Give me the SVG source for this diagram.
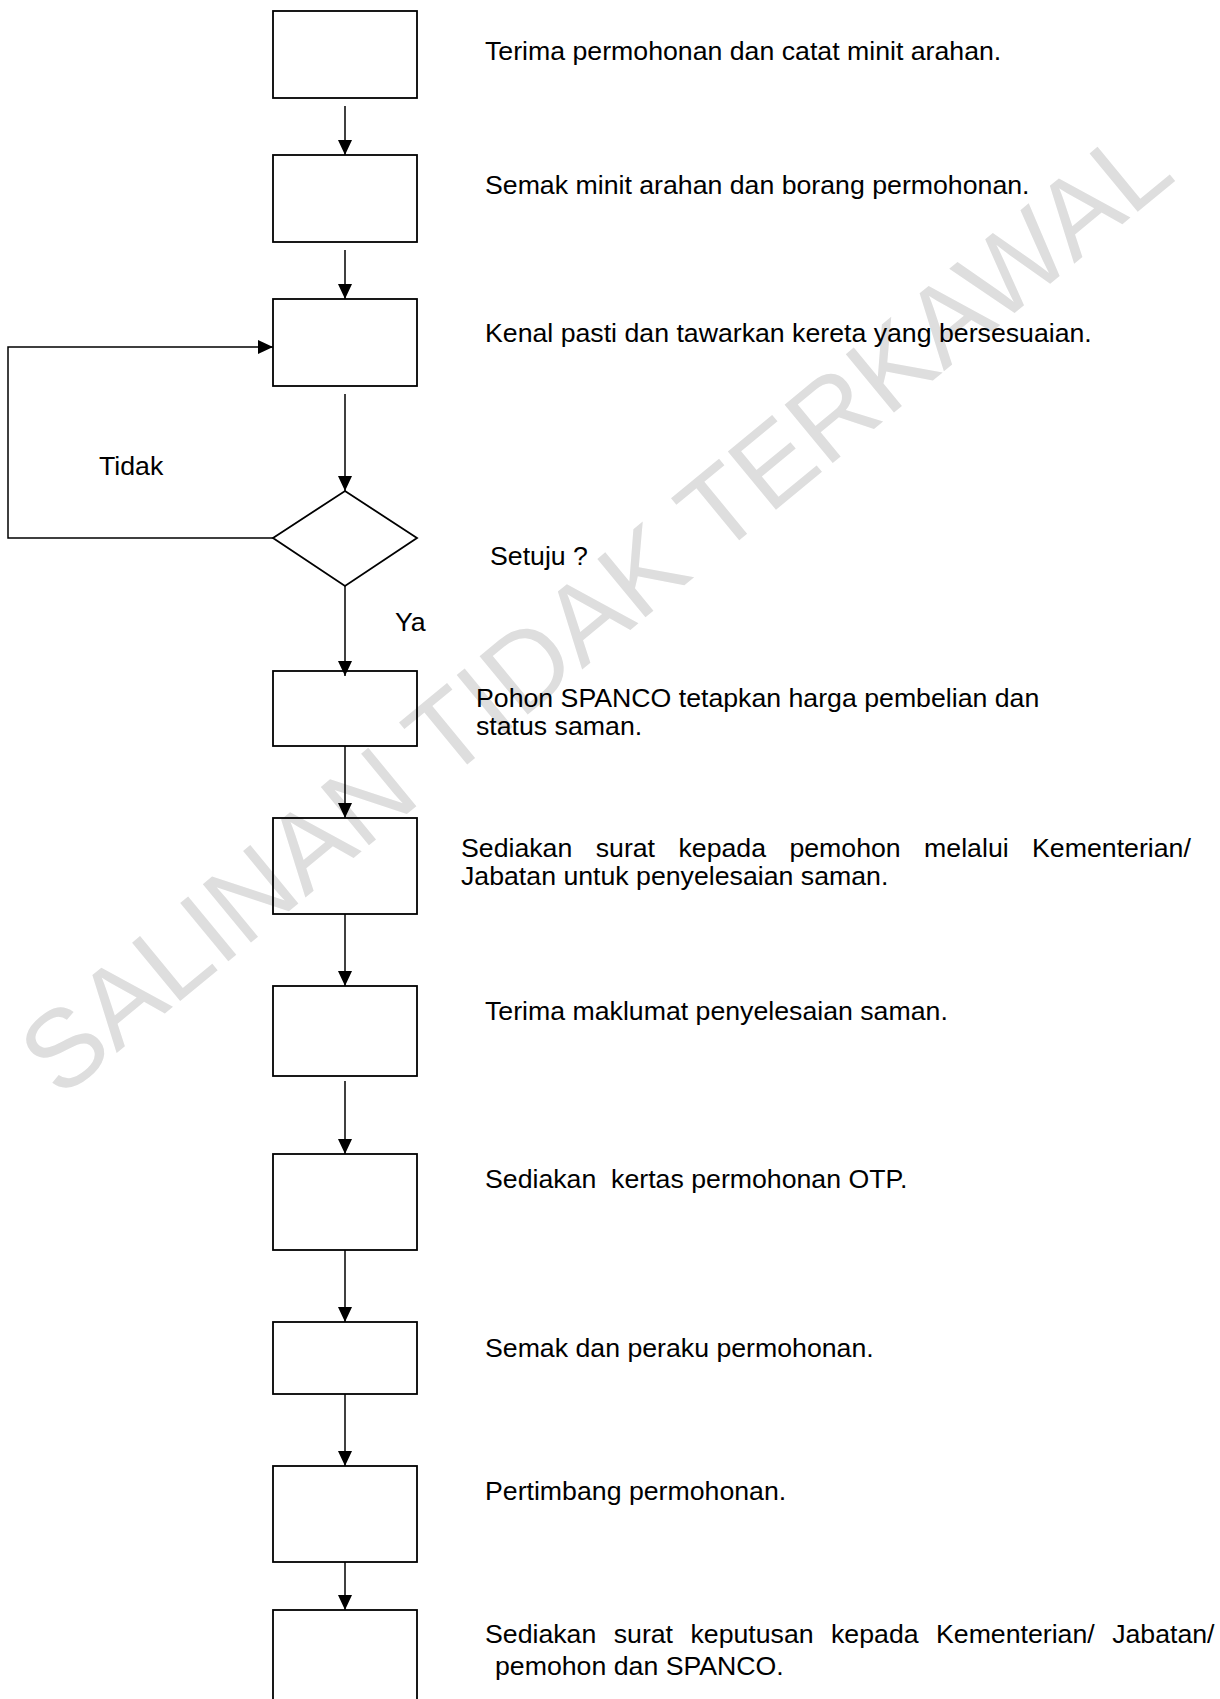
<svg xmlns="http://www.w3.org/2000/svg" width="1220" height="1699" viewBox="0 0 1220 1699">
<style>
.bg{fill:#ffffff}
.box{fill:none;stroke:#000;stroke-width:1.8}
.ln{fill:none;stroke:#000;stroke-width:1.5}
.t{font-family:"Liberation Sans",Arial,sans-serif;font-size:26.7px;fill:#000;white-space:pre}
.wm{font-family:"Liberation Sans",Arial,sans-serif;font-size:110px;fill:#dedede}
</style>
<defs>
<marker id="ah" markerUnits="userSpaceOnUse" markerWidth="16" markerHeight="14" refX="15" refY="7" orient="auto">
<path d="M0,0 L15,7 L0,14 Z" fill="#000"/>
</marker>
</defs>
<rect class="bg" x="0" y="0" width="1220" height="1699"/>
<text class="wm" x="60" y="1100" transform="rotate(-39.5 60 1100)">SALINAN TIDAK TERKAWAL</text>

<g id="connectors">
<line class="ln" x1="345" y1="106" x2="345" y2="155" marker-end="url(#ah)"/>
<line class="ln" x1="345" y1="250" x2="345" y2="299" marker-end="url(#ah)"/>
<line class="ln" x1="345" y1="394" x2="345" y2="491" marker-end="url(#ah)"/>
<polyline class="ln" points="273,538 8,538 8,347 273,347" marker-end="url(#ah)"/>
<line class="ln" x1="345" y1="586" x2="345" y2="676" marker-end="url(#ah)"/>
<line class="ln" x1="345" y1="746" x2="345" y2="818" marker-end="url(#ah)"/>
<line class="ln" x1="345" y1="914" x2="345" y2="986" marker-end="url(#ah)"/>
<line class="ln" x1="345" y1="1081" x2="345" y2="1154" marker-end="url(#ah)"/>
<line class="ln" x1="345" y1="1250" x2="345" y2="1322" marker-end="url(#ah)"/>
<line class="ln" x1="345" y1="1394" x2="345" y2="1466" marker-end="url(#ah)"/>
<line class="ln" x1="345" y1="1562" x2="345" y2="1610" marker-end="url(#ah)"/>
<text class="t" x="99" y="475">Tidak</text>
<text class="t" x="395" y="631">Ya</text>
</g>

<g id="n1"><rect class="box" x="273" y="11" width="144" height="87"/>
<text class="t" x="485" y="60">Terima permohonan dan catat minit arahan.</text></g>
<g id="n2"><rect class="box" x="273" y="155" width="144" height="87"/>
<text class="t" x="485" y="194">Semak minit arahan dan borang permohonan.</text></g>
<g id="n3"><rect class="box" x="273" y="299" width="144" height="87"/>
<text class="t" x="485" y="342">Kenal pasti dan tawarkan kereta yang bersesuaian.</text></g>
<g id="d1"><polygon class="box" points="345,491 417,538 345,586 273,538"/>
<text class="t" x="490" y="565">Setuju ?</text></g>
<g id="n4"><rect class="box" x="273" y="671" width="144" height="75"/>
<text class="t" x="476" y="707">Pohon SPANCO tetapkan harga pembelian dan</text>
<text class="t" x="476" y="735">status saman.</text></g>
<g id="n5"><rect class="box" x="273" y="818" width="144" height="96"/>
<text class="t" x="461" y="857" word-spacing="16">Sediakan surat kepada pemohon melalui Kementerian/</text>
<text class="t" x="461" y="885">Jabatan untuk penyelesaian saman.</text></g>
<g id="n6"><rect class="box" x="273" y="986" width="144" height="90"/>
<text class="t" x="485" y="1020">Terima maklumat penyelesaian saman.</text></g>
<g id="n7"><rect class="box" x="273" y="1154" width="144" height="96"/>
<text class="t" x="485" y="1188">Sediakan  kertas permohonan OTP.</text></g>
<g id="n8"><rect class="box" x="273" y="1322" width="144" height="72"/>
<text class="t" x="485" y="1357">Semak dan peraku permohonan.</text></g>
<g id="n9"><rect class="box" x="273" y="1466" width="144" height="96"/>
<text class="t" x="485" y="1500">Pertimbang permohonan.</text></g>
<g id="n10"><rect class="box" x="273" y="1610" width="144" height="140"/>
<text class="t" x="485" y="1643" word-spacing="10">Sediakan surat keputusan kepada Kementerian/ Jabatan/</text>
<text class="t" x="495" y="1675">pemohon dan SPANCO.</text></g>
</svg>
